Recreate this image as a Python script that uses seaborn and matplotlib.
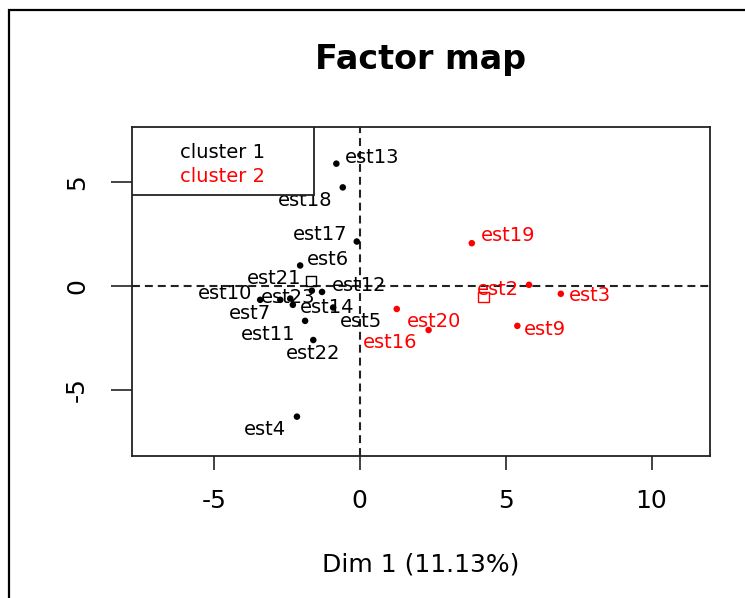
import matplotlib
matplotlib.use("Agg")
import matplotlib.pyplot as plt
from matplotlib.patches import Rectangle
import pandas as pd
import seaborn as sns

# individuals, cluster 1 (black)
names_c1 = ['est13', 'est18', 'est17', 'est6', 'est4', 'est21', 'est12',
            'est10', 'est23', 'est7', 'est14', 'est5', 'est11', 'est22']
dim1_c1 = [-0.80, -0.58, -0.10, -2.04, -2.15, -1.64, -1.29,
           -3.41, -2.38, -2.72, -2.29, -0.91, -1.87, -1.59]
dim2_c1 = [5.87, 4.73, 2.13, 0.98, -6.28, -0.23, -0.29,
           -0.67, -0.61, -0.67, -0.91, -1.04, -1.68, -2.60]

# individuals, cluster 2 (red)
names_c2 = ['est19', 'est2', 'est3', 'est20', 'est16', 'est9']
dim1_c2 = [3.84, 5.80, 6.89, 1.27, 2.36, 5.40]
dim2_c2 = [2.05, 0.05, -0.38, -1.11, -2.12, -1.92]

# cluster centres
centre_names = ['cluster 1', 'cluster 2']
centre_dim1 = [-1.67, 4.24]
centre_dim2 = [0.24, -0.54]

colours = {'cluster 1': 'black', 'cluster 2': 'red'}

# label placement (pixel offsets from the point), like autoLab in R
label_offset = {
    'est13': (36, 6), 'est18': (-38, -13), 'est17': (-37, 7), 'est6': (28, 6),
    'est4': (-32, -13), 'est21': (-38, 12), 'est12': (37, 6), 'est10': (-35, 6),
    'est23': (-2, 1), 'est7': (-30, -14), 'est14': (34, -3), 'est5': (28, -14),
    'est11': (-37, -14), 'est22': (0, -13), 'est19': (36, 8), 'est2': (-31, -5),
    'est3': (29, -2), 'est20': (37, -13), 'est16': (-38, -12), 'est9': (28, -4),
}

df = pd.DataFrame({
    'name': names_c1 + names_c2,
    'Dim1': dim1_c1 + dim1_c2,
    'Dim2': dim2_c1 + dim2_c2,
    'cluster': ['cluster 1'] * len(names_c1) + ['cluster 2'] * len(names_c2),
})
centres = pd.DataFrame({'cluster': centre_names, 'Dim1': centre_dim1, 'Dim2': centre_dim2})

sns.set_theme(style='ticks')
plt.rcParams['font.family'] = ['DejaVu Sans']
plt.rcParams['axes.unicode_minus'] = False
plt.rcParams['text.color'] = 'black'
plt.rcParams['axes.labelcolor'] = 'black'

fig = plt.figure(figsize=(7.45, 5.98), dpi=100)
ax = fig.add_axes([132 / 745, 1 - 456 / 598, 578 / 745, 329 / 598])

ax.axhline(0, color='#222222', lw=1.5, ls=(0, (3.8, 2.4)), zorder=1)
ax.axvline(0, color='#222222', lw=1.5, ls=(0, (3.8, 2.4)), zorder=1)

sns.scatterplot(data=df, x='Dim1', y='Dim2', hue='cluster', palette=colours,
                s=22, linewidth=0, legend=False, ax=ax, zorder=3)
sns.scatterplot(data=centres, x='Dim1', y='Dim2', hue='cluster', palette=colours,
                marker='s', s=55, linewidth=1.0, legend=False, ax=ax, zorder=3)
# hollow squares: seaborn fills from hue, so move the colour to the edges
for coll in ax.collections[1:]:
    fc = coll.get_facecolors()
    coll.set_edgecolors(fc)
    coll.set_facecolors('none')

for _, row in df.iterrows():
    dx, dy = label_offset[row['name']]
    ax.annotate(row['name'], (row['Dim1'], row['Dim2']), xytext=(dx, dy),
                textcoords='offset pixels', ha='center', va='center',
                fontsize=14, color=colours[row['cluster']], zorder=4)

ax.set_xlim(-7.8, 12.0)
ax.set_ylim(-8.17, 7.63)
ax.set_xticks([-5, 0, 5, 10])
ax.set_yticks([-5, 0, 5])
ax.tick_params(axis='x', length=10, width=1.2, labelsize=18, pad=14, colors='#222222',
               labelcolor='black')
ax.tick_params(axis='y', length=15, width=1.2, labelsize=18, pad=16, colors='#222222',
               labelcolor='black')
for lab in ax.get_yticklabels():
    lab.set_rotation(90)
    lab.set_va('center')
for sp in ax.spines.values():
    sp.set_visible(True)
    sp.set_color('#222222')
    sp.set_linewidth(1.3)

ax.set_xlabel('Dim 1 (11.13%)', fontsize=18, labelpad=28, color='black')
ax.set_ylabel('')
ax.set_title('Factor map', fontsize=24, fontweight='bold', pad=42, color='black')

# legend box in the upper left corner
ax.add_patch(Rectangle((0, 1 - 68 / 329), 182 / 578, 68 / 329, transform=ax.transAxes,
                       facecolor='white', edgecolor='#222222', lw=1.3, zorder=5))
for i, name in enumerate(centre_names):
    ax.text(48 / 578, 1 - (26 + 23 * i) / 329, name, transform=ax.transAxes,
            ha='left', va='center', fontsize=14, color=colours[name], zorder=6)

# outer frame of the device (cropped)
fig.add_artist(Rectangle((9 / 745, -0.1), 1.2, 1.1 - 10 / 598, transform=fig.transFigure,
                         fill=False, edgecolor='black', lw=1.6))

fig.savefig('out.png', dpi=100)
